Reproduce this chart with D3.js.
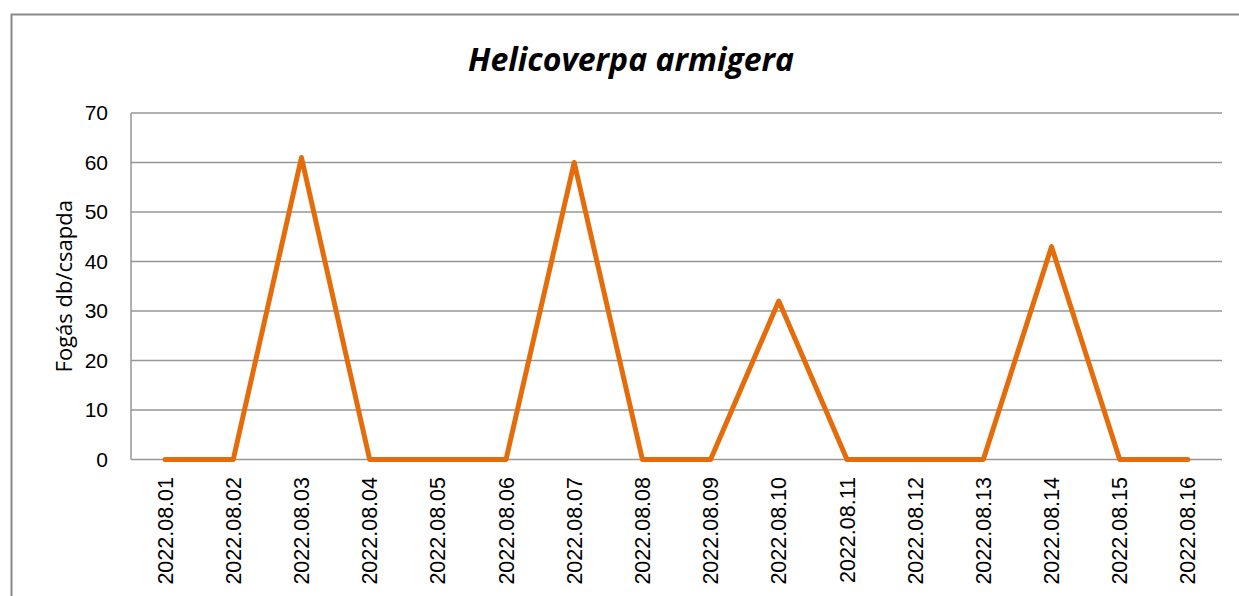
<!DOCTYPE html>
<html>
<head>
<meta charset="utf-8">
<script src="https://cdn.jsdelivr.net/npm/d3@7"></script>
<style>
  body { margin: 0; background: #fff; }
  svg { display: block; }
  text { fill: #000; }
</style>
</head>
<body>
<div id="chart"></div>
<script>
// data
var dates = ["2022.08.01", "2022.08.02", "2022.08.03", "2022.08.04", "2022.08.05",
             "2022.08.06", "2022.08.07", "2022.08.08", "2022.08.09", "2022.08.10",
             "2022.08.11", "2022.08.12", "2022.08.13", "2022.08.14", "2022.08.15",
             "2022.08.16"];
var catches = [0, 0, 61, 0, 0, 0, 60, 0, 0, 32, 0, 0, 0, 43, 0, 0];
var yTicks = [0, 10, 20, 30, 40, 50, 60, 70];
var title = "Helicoverpa armigera";
var yTitle = "Fogás db/csapda";

var W = 1239, H = 596,
    m = { left: 131, right: 1222, top: 113, bottom: 459.5 };

var svg = d3.select("#chart").append("svg")
  .attr("width", W)
  .attr("height", H);

// outer chart border (right/bottom run off the picture)
svg.append("rect")
  .attr("x", 11.5).attr("y", 14.5)
  .attr("width", 1260).attr("height", 620)
  .attr("fill", "none")
  .attr("stroke", "#898989")
  .attr("stroke-width", 2);

var x = d3.scaleBand().domain(dates).range([m.left, m.right]);
var y = d3.scaleLinear().domain([0, 70]).range([m.bottom, m.top]);

// grid lines
svg.append("g")
  .selectAll("line")
  .data(yTicks)
  .join("line")
  .attr("x1", m.left).attr("x2", m.right)
  .attr("y1", function(d) { return y(d); })
  .attr("y2", function(d) { return y(d); })
  .attr("stroke", "#969696")
  .attr("stroke-width", 1.5);

// y axis line
svg.append("line")
  .attr("x1", m.left).attr("x2", m.left)
  .attr("y1", m.top).attr("y2", m.bottom)
  .attr("stroke", "#969696")
  .attr("stroke-width", 1.5);

// y tick labels
svg.append("g")
  .selectAll("text")
  .data(yTicks)
  .join("text")
  .attr("x", 108)
  .attr("y", function(d) { return y(d); })
  .attr("dy", "0.35em")
  .attr("text-anchor", "end")
  .style("font-family", "'Liberation Sans', Arial, sans-serif")
  .style("font-size", "21px")
  .text(function(d) { return d; });

// x tick labels, rotated
svg.append("g")
  .selectAll("text")
  .data(dates)
  .join("text")
  .attr("transform", function(d) {
    return "translate(" + (x(d) + x.bandwidth() / 2) + "," + 477 + ") rotate(-90)";
  })
  .attr("dy", "0.35em")
  .attr("text-anchor", "end")
  .style("font-family", "'Liberation Sans', Arial, sans-serif")
  .style("font-size", "21.5px")
  .text(function(d) { return d; });

// the series
var line = d3.line()
  .x(function(d, i) { return x(dates[i]) + x.bandwidth() / 2; })
  .y(function(d) { return y(d); });

svg.append("path")
  .datum(catches)
  .attr("d", line)
  .attr("fill", "none")
  .attr("stroke", "#E46C0A")
  .attr("stroke-width", 5)
  .attr("stroke-linejoin", "round")
  .attr("stroke-linecap", "round");

// title
svg.append("text")
  .attr("x", 631)
  .attr("y", 71)
  .attr("text-anchor", "middle")
  .style("font-family", "'Open Sans', sans-serif")
  .style("font-style", "italic")
  .style("font-weight", "bold")
  .style("font-size", "32px")
  .text(title);

// y axis title
svg.append("text")
  .attr("transform", "translate(72," + ((m.top + m.bottom) / 2) + ") rotate(-90)")
  .attr("text-anchor", "middle")
  .style("font-family", "'Open Sans', sans-serif")
  .style("font-size", "22px")
  .text(yTitle);
</script>
</body>
</html>
